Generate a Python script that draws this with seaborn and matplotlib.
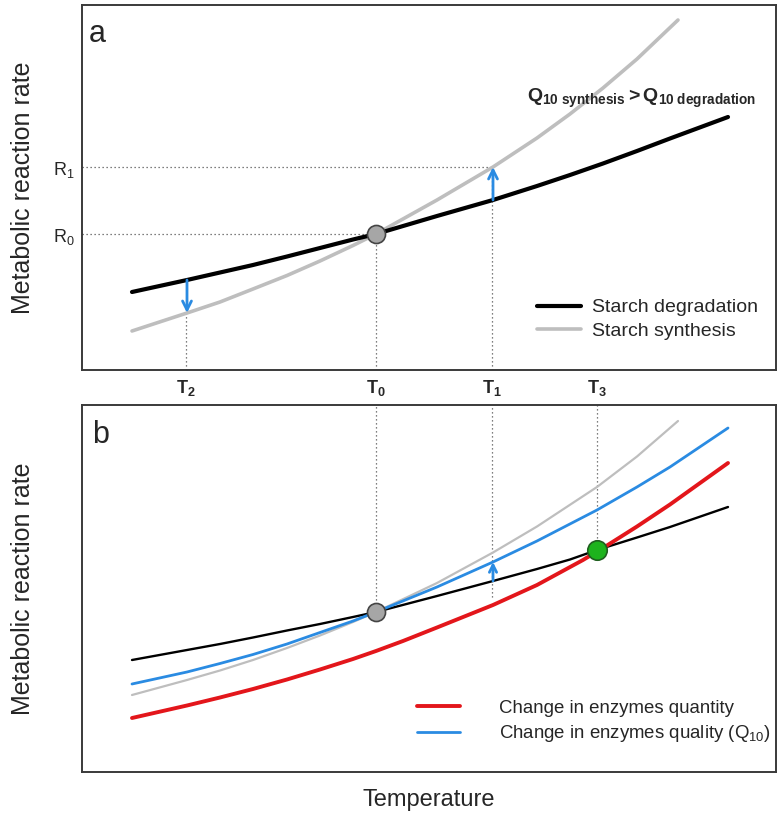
import matplotlib
matplotlib.use('Agg')
import matplotlib.pyplot as plt
import seaborn as sns

sns.set_style('white')
plt.rcParams['font.family'] = ['Liberation Sans', 'DejaVu Sans']
plt.rcParams['mathtext.fontset'] = 'custom'
plt.rcParams['mathtext.rm'] = 'Liberation Sans'
plt.rcParams['mathtext.it'] = 'Liberation Sans:italic'
plt.rcParams['mathtext.bf'] = 'Liberation Sans:bold'
plt.rcParams['lines.solid_joinstyle'] = 'round'
plt.rcParams['lines.solid_capstyle'] = 'round'

# temperature marks (arbitrary units)
t_marks = [186, 376, 492, 597]
t_names = [r'$\mathbf{T}_\mathbf{2}$', r'$\mathbf{T}_\mathbf{0}$',
           r'$\mathbf{T}_\mathbf{1}$', r'$\mathbf{T}_\mathbf{3}$']

# panel a
temp_deg_a = [132, 187, 220, 253, 287, 320, 353, 376, 437, 493, 537, 570, 603, 637, 670, 728]
degradation_a = [78, 90, 97.5, 105, 113.5, 122, 130.5, 136, 154, 170, 184, 195, 206.5, 219, 231.5, 253]
temp_syn_a = [132, 187, 220, 253, 287, 320, 353, 376, 437, 493, 537, 570, 603, 637, 678]
synthesis_a = [39, 57, 68, 81, 94.5, 109, 124.5, 136, 170, 203, 232, 256, 282, 311, 350]
r_values = [136, 203]
r_names = ['R$_0$', 'R$_1$']

# panel b
temp_deg_b = [132, 187, 220, 253, 287, 320, 353, 376, 437, 493, 537, 570, 597, 637, 670, 728]
degradation_b = [112, 122, 128, 134.5, 141.5, 148, 155, 160, 176, 191, 203, 212.5, 222, 234.5, 245, 265]
temp_qual_b = [132, 187, 220, 253, 287, 320, 353, 376, 437, 493, 537, 597, 637, 670, 728]
quality_b = [88, 100, 108.5, 117.5, 128, 139.5, 151, 160, 185, 210, 231, 262, 285, 305, 344]
temp_syn_b = [132, 187, 220, 253, 287, 320, 353, 376, 437, 493, 537, 597, 637, 678]
synthesis_b = [77, 92, 101.5, 112, 124, 136.5, 150, 160, 189, 219.5, 245.5, 285, 315.5, 351]
temp_quant_b = [132, 187, 220, 253, 287, 320, 353, 376, 403, 437, 493, 537, 583, 603, 637, 670, 728]
quantity_b = [54, 66.5, 74.5, 83, 92.5, 102.5, 113, 121, 131, 144.5, 167, 187, 212, 224, 245.5, 267.5, 309]
t1_guide_b = 175

blue = '#2A8BE2'
red = '#E3161B'
grey = '#BEBEBE'
dot = dict(color='#555555', lw=0.9, ls=(0, (1, 2.2)), zorder=1)

W, H = 777, 813
fig = plt.figure(figsize=(W / 100, H / 100), dpi=100)
ax_a = fig.add_axes([82 / W, (H - 370) / H, 694 / W, 365 / H])
ax_b = fig.add_axes([82 / W, (H - 772) / H, 694 / W, 367 / H])

for ax in (ax_a, ax_b):
    ax.set_xlim(82, 776)
    for s in ax.spines.values():
        s.set_color('#3a3a3a')
        s.set_linewidth(1.4)
    ax.tick_params(length=0)
ax_a.set_ylim(0, 365)
ax_b.set_ylim(0, 367)

# ---- panel a ----
sns.lineplot(x=temp_deg_a, y=degradation_a, ax=ax_a, color='black', lw=3,
             label='Starch degradation', zorder=3)
sns.lineplot(x=temp_syn_a, y=synthesis_a, ax=ax_a, color=grey, lw=2.6,
             label='Starch synthesis', zorder=2)

# dotted guides
ax_a.plot([t_marks[0], t_marks[0]], [0, synthesis_a[1]], **dot)
ax_a.plot([t_marks[1], t_marks[1]], [0, r_values[0]], **dot)
ax_a.plot([t_marks[2], t_marks[2]], [0, r_values[1]], **dot)
ax_a.plot([82, t_marks[1]], [r_values[0]] * 2, **dot)
ax_a.plot([82, t_marks[2]], [r_values[1]] * 2, **dot)

arrow = dict(arrowstyle='->', color=blue, lw=2, shrinkA=0, shrinkB=0, mutation_scale=16)
ax_a.annotate('', xy=(temp_syn_a[1], synthesis_a[1]), xytext=(temp_deg_a[1], degradation_a[1]),
              arrowprops=arrow, zorder=4)
ax_a.annotate('', xy=(temp_syn_a[9], synthesis_a[9]), xytext=(temp_deg_a[9], degradation_a[9]),
              arrowprops=arrow, zorder=4)
ax_a.plot(t_marks[1], r_values[0], 'o', ms=13, mfc='#A6A6A6', mec='#444444', mew=1.2, zorder=5)

ax_a.set_xticks(t_marks)
ax_a.set_xticklabels(t_names, fontsize=13)
ax_a.tick_params(axis='x', pad=6)
ax_a.set_yticks(r_values)
ax_a.set_yticklabels(r_names, fontsize=13)
ax_a.tick_params(axis='y', pad=5)
ax_a.set_ylabel('Metabolic reaction rate', fontsize=18)
ax_a.yaxis.set_label_coords(-0.068, 0.5)
ax_a.text(0.010, 0.898, 'a', transform=ax_a.transAxes, fontsize=22)
ax_a.text(527, 268, r'$\mathbf{Q}_\mathbf{10\ synthesis}\mathbf{>Q}_\mathbf{10\ degradation}$',
          fontsize=14)
ax_a.legend(loc='upper left', bbox_to_anchor=(0.655, 0.195), frameon=False, fontsize=14,
            handlelength=2.3, handletextpad=0.55, labelspacing=0.32, borderpad=0, borderaxespad=0)

# ---- panel b ----
sns.lineplot(x=temp_syn_b, y=synthesis_b, ax=ax_b, color=grey, lw=1.6, zorder=2)
sns.lineplot(x=temp_deg_b, y=degradation_b, ax=ax_b, color='black', lw=1.7, zorder=3)
sns.lineplot(x=temp_quant_b, y=quantity_b, ax=ax_b, color=red, lw=2.8,
             label='Change in enzymes quantity', zorder=3)
sns.lineplot(x=temp_qual_b, y=quality_b, ax=ax_b, color=blue, lw=2,
             label='Change in enzymes quality (Q$_{10}$)', zorder=3)

ax_b.plot([t_marks[1], t_marks[1]], [degradation_b[7], 367], **dot)
ax_b.plot([t_marks[2], t_marks[2]], [t1_guide_b, 367], **dot)
ax_b.plot([t_marks[3], t_marks[3]], [degradation_b[12], 367], **dot)
ax_b.annotate('', xy=(temp_qual_b[9], quality_b[9]), xytext=(temp_deg_b[9], degradation_b[9]),
              arrowprops=dict(arrow, mutation_scale=13), zorder=4)
ax_b.plot(t_marks[1], degradation_b[7], 'o', ms=13, mfc='#A6A6A6', mec='#444444', mew=1.2, zorder=5)
ax_b.plot(t_marks[3], degradation_b[12], 'o', ms=14, mfc='#1DB31D', mec='#1f5f1f', mew=1.2, zorder=5)

ax_b.set_xticks([])
ax_b.set_yticks([])
ax_b.set_ylabel('Metabolic reaction rate', fontsize=18)
ax_b.yaxis.set_label_coords(-0.068, 0.5)
ax_b.set_xlabel('Temperature', fontsize=17, labelpad=12)
ax_b.text(0.014, 0.896, 'b', transform=ax_b.transAxes, fontsize=22)
ax_b.legend(loc='upper left', bbox_to_anchor=(0.483, 0.197), frameon=False, fontsize=13.4,
            handlelength=2.3, handletextpad=2.1, labelspacing=0.36, borderpad=0, borderaxespad=0)

fig.savefig('out.png', dpi=100)
